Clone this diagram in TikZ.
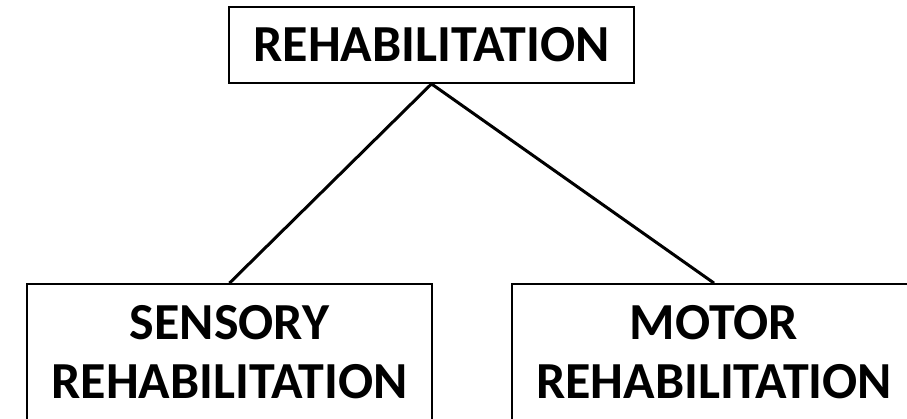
\documentclass[tikz,border=0pt]{standalone}
\usepackage{fontspec}
\setmainfont{Carlito}
\begin{document}
\begin{tikzpicture}[x=1pt,y=1pt,
  box/.style={draw=black, line width=1.8pt, inner sep=0pt, align=center,
    font=\fontsize{52}{59}\selectfont\bfseries},
  conn/.style={draw=black, line width=3pt}]
\useasboundingbox (0,0) rectangle (907,418);
\node[box, minimum width=405, minimum height=76] (top) at (431.5,373) {REHABILITATION};
\node[box, minimum width=405, minimum height=136] (sens) at (229.5,66) {SENSORY\\REHABILITATION};
\node[box, minimum width=404, minimum height=136] (motor) at (714,66) {MOTOR\\REHABILITATION};
\draw[conn] (top.south) -- (sens.north);
\draw[conn] (top.south) -- (motor.north);
\end{tikzpicture}
\end{document}
